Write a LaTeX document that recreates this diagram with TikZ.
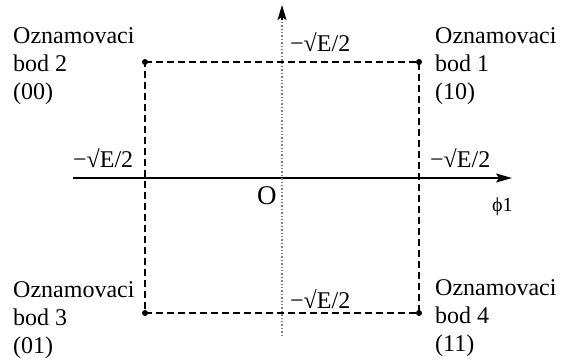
\documentclass[tikz,border=0pt]{standalone}
\usepackage{fontspec}
\setmainfont{Liberation Serif}
\usetikzlibrary{arrows.meta}
\begin{document}
\begin{tikzpicture}[x=1pt,y=-1pt,
  lbl/.style={inner sep=0pt,anchor=base west,font=\fontsize{24pt}{28pt}\selectfont},
  ptlbl/.style={inner sep=0pt,anchor=north west,align=left,font=\fontsize{24pt}{28pt}\selectfont},
  dot/.style={circle,fill=black,inner sep=0pt,minimum size=6pt},
  rect/.style={dash pattern=on 7pt off 4pt,line width=1.3pt},
  axis/.style={line width=1.5pt,-{Stealth[length=16pt,width=9pt,inset=3pt]}}]
\useasboundingbox (0,0) rectangle (561,358);
% corner points
\node[dot] (p1) at (419,62) {};
\node[dot] (p2) at (145,62) {};
\node[dot] (p3) at (145,313) {};
\node[dot] (p4) at (419,313) {};
\draw[rect] (p2.center) -- (p1.center) -- (p4.center) -- (p3.center) -- cycle;
% axes
\coordinate (xs) at (73,178);
\coordinate (xe) at (512,178);
\coordinate (ys) at (282,336);
\coordinate (ym) at (282,20);
\coordinate (ye) at (282,5);
\draw[axis] (xs) -- (xe);
\draw[line width=1.4pt,gray,dotted] (ys) -- (ym);
\draw[-{Stealth[length=15pt,width=9pt,inset=3pt]},line width=1.4pt,black] (ym) -- (ye);
% labels
\node[lbl] (t) at (290,52) {−√E/2};
\node[lbl] (l) at (73,167) {−√E/2};
\node[lbl] (r) at (430,167) {−√E/2};
\node[lbl] (b) at (290,308) {−√E/2};
\node[inner sep=0pt,anchor=base west,font=\fontsize{27pt}{30pt}\selectfont] (o) at (257,204) {O};
\node[inner sep=0pt,anchor=base west,font=\fontsize{20pt}{22pt}\selectfont] (phi) at (492,211) {ϕ1};
\node[ptlbl] (n2) at (13,27) {Oznamovaci\\bod 2\\(00)};
\node[ptlbl] (n1) at (435,27) {Oznamovaci\\bod 1\\(10)};
\node[ptlbl] (n3) at (13,281) {Oznamovaci\\bod 3\\(01)};
\node[ptlbl] (n4) at (435,279) {Oznamovaci\\bod 4\\(11)};
\end{tikzpicture}
\end{document}
